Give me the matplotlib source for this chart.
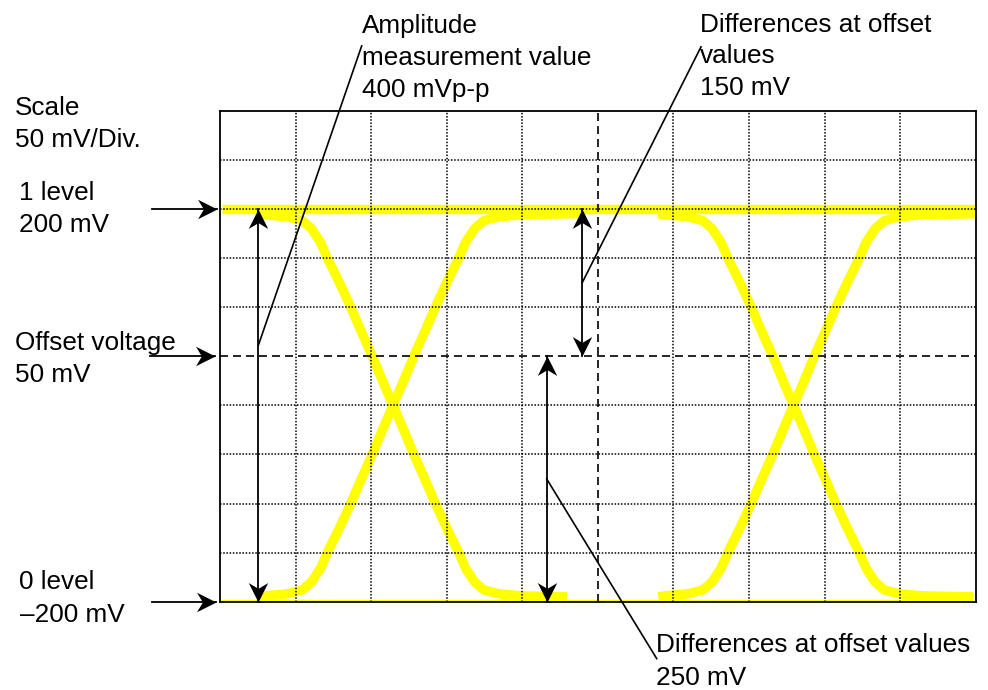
import numpy as np
import matplotlib
matplotlib.use('Agg')
import matplotlib.pyplot as plt
from matplotlib.path import Path
from matplotlib.markers import MarkerStyle
from matplotlib.transforms import Affine2D

plt.rcParams['font.family'] = ['Liberation Sans', 'DejaVu Sans']

# screen: 10 x 10 divisions, 50 mV/div
xdivs = 10
ymin, ymax = -200, 300
level_1 = 200
level_0 = -200
offset_mv = 50

# one edge of the eye: level (mV) vs half width (div) from crossing
edge_mv = [0, 25, 50, 75, 100, 125, 150, 166, 180, 188, 192, 194, 195]
edge_hw = [0, 0.14, 0.275, 0.42, 0.56, 0.71, 0.87, 0.96, 1.08, 1.2, 1.4, 1.7, 2.3]

# the two crossings and where each drawn trace starts / ends (div)
cross_x = [2.29, 7.59]
trace_start = [0.5, 5.8]
fall_end = [4.59, 9.97]
rise_end = [4.80, 10.0]

# measurement arrows (div)
amp_x = 0.507
diff150_x = 4.794
diff250_x = 4.323

W, H = 988, 690
fig = plt.figure(figsize=(W / 100, H / 100), dpi=100)
ax = fig.add_axes([220 / W, (H - 601.7) / H, 755.7 / W, 491 / H])
ax.set_xlim(0, xdivs)
ax.set_ylim(ymin, ymax)
ax.set_xticks([])
ax.set_yticks([])
for s in ax.spines.values():
    s.set_linewidth(1.3)
    s.set_zorder(5)

# grid
for i in range(1, xdivs):
    if i == 5:
        continue
    ax.axvline(i, color='k', lw=1.1, ls=(0, (1, 1.1)), zorder=2)
for v in range(ymin + 50, ymax, 50):
    if v == offset_mv:
        continue
    ax.axhline(v, color='k', lw=1.1, ls=(0, (1, 1.1)), zorder=2)
ax.axvline(5, color='k', lw=1.2, ls=(0, (4.8, 3.0)), zorder=2)
ax.axhline(offset_mv, color='k', lw=1.2, ls=(0, (4.8, 3.0)), zorder=2)

# yellow traces
yel = '#ffff00'
tlw = 6.8
ax.plot([0.02, xdivs], [level_1, level_1], color=yel, lw=tlw, zorder=1, solid_capstyle='butt')
ax.plot([-0.02, 9.97], [level_0 - 2, level_0 - 2], color=yel, lw=tlw, zorder=1, solid_capstyle='butt')

mv = np.array(edge_mv, dtype=float)
hw = np.array(edge_hw, dtype=float)
for xc, x0, xf, xr in zip(cross_x, trace_start, fall_end, rise_end):
    for sign, xend in ((1, xf), (-1, xr)):
        # sign 1 = falling (top -> bottom), -1 = rising
        xs = np.concatenate([xc - hw[::-1], xc + hw[1:]])
        ys = sign * np.concatenate([mv[::-1], -mv[1:]])
        keep = (xs >= x0) & (xs <= xend)
        xs = np.concatenate([[x0], xs[keep], [xend]])
        ys = np.concatenate([[sign * edge_mv[-1]], ys[keep], [-sign * edge_mv[-1]]])
        ax.plot(xs, ys, color=yel, lw=tlw, zorder=1, solid_capstyle='butt',
                solid_joinstyle='round')

# arrow heads (barbed, like the drawing tool's)
head = Path([(0, 0), (-15, 7.5), (-10.5, 0), (-15, -7.5), (0, 0)],
            [Path.MOVETO, Path.LINETO, Path.LINETO, Path.LINETO, Path.CLOSEPOLY])


def arrow(x0, y0, x1, y1, both=False):
    ax.plot([x0, x1], [y0, y1], color='k', lw=1.3, zorder=6, clip_on=False)
    ends = [(x1, y1, x0, y0)]
    if both:
        ends.append((x0, y0, x1, y1))
    for tx, ty, fx, fy in ends:
        if ty == fy:
            ang = 0 if tx > fx else 180
        else:
            ang = 90 if ty > fy else -90
        m = MarkerStyle(head, transform=Affine2D().rotate_deg(ang))
        ax.plot([tx], [ty], marker=m, ms=28, color='k', mec='k', mew=0,
                ls='none', zorder=7, clip_on=False)


def leader(x0, y0, x1, y1):
    ax.plot([x0, x1], [y0, y1], color='k', lw=1.2, zorder=6, clip_on=False)


arrow(-0.90, level_1, -0.04, level_1)
arrow(-0.92, offset_mv, -0.06, offset_mv)
arrow(-0.90, level_0, -0.05, level_0)

arrow(amp_x, level_0, amp_x, level_1, both=True)
arrow(diff150_x, offset_mv, diff150_x, level_1, both=True)
arrow(diff250_x, level_0, diff250_x, offset_mv, both=True)

leader(amp_x, 61, 1.875, 366)
leader(diff150_x, 125, 6.365, 365)
leader(diff250_x, -75, 5.779, -258)

fs = 18.8


def label(x, y, s):
    fig.text(x / W, 1 - y / H, s, fontsize=fs, va='baseline', ha='left')


label(15, 115, 'Scale')
label(15, 146.7, '50 mV/Div.')
label(19, 200, '1 level')
label(19, 231.7, '200 mV')
label(15, 350, 'Offset voltage')
label(15, 381.7, '50 mV')
label(19, 589.3, '0 level')
label(20, 621.7, '\u2013200 mV')
label(362, 33.3, 'Amplitude')
label(362, 65, 'measurement value')
label(362, 96.7, '400 mVp-p')
label(700, 31.7, 'Differences at offset')
label(700, 63.3, 'values')
label(700, 95, '150 mV')
label(656, 651.7, 'Differences at offset values')
label(656, 685, '250 mV')

fig.savefig('out.png', dpi=100)
